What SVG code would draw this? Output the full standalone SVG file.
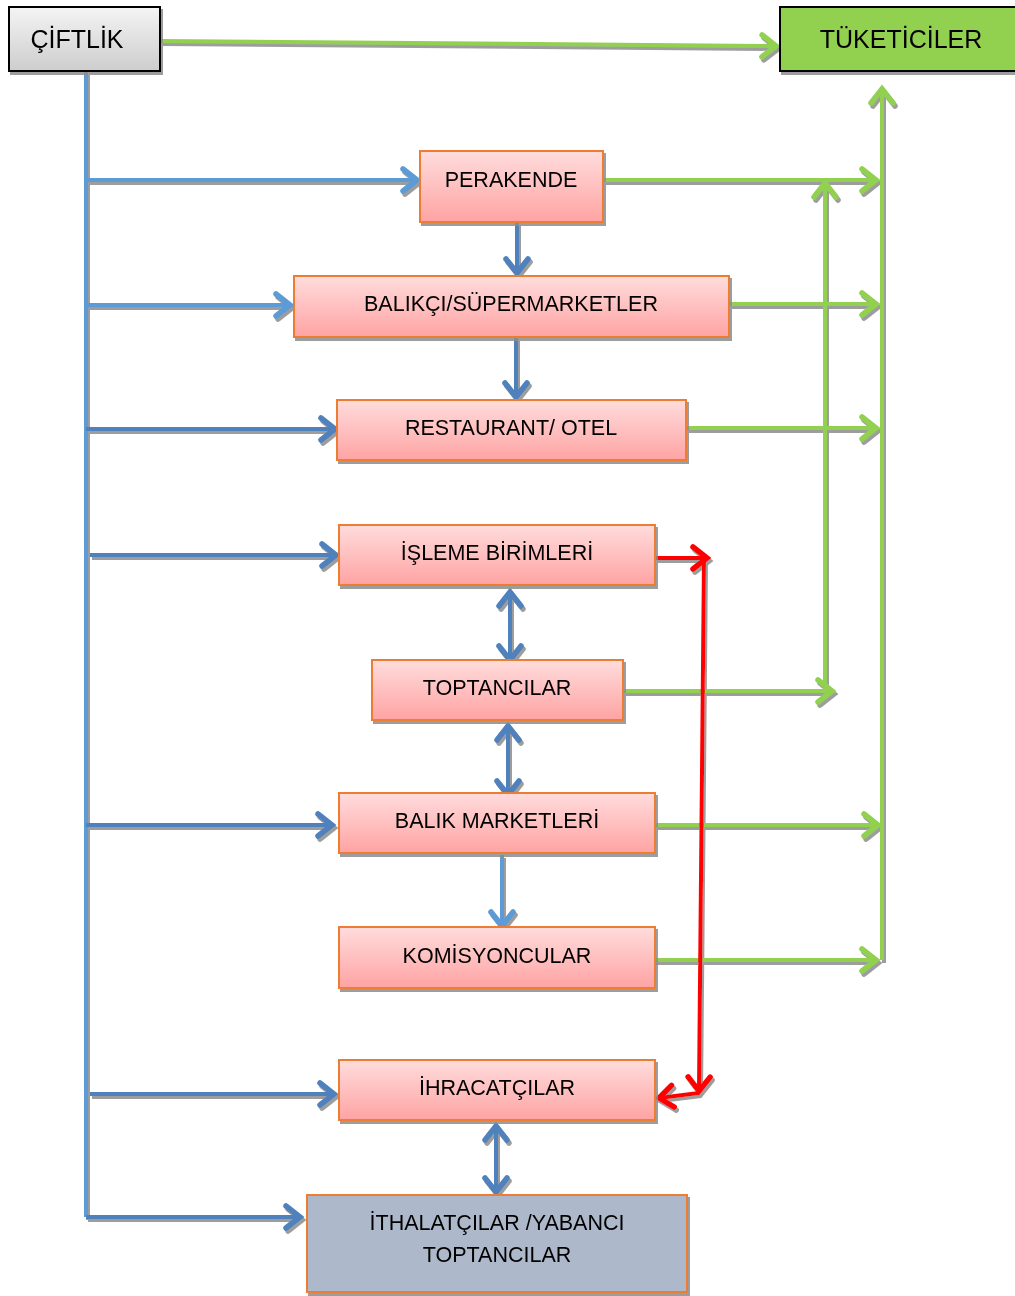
<svg xmlns="http://www.w3.org/2000/svg" width="1015" height="1296" viewBox="0 0 1015 1296">
<defs>
<linearGradient id="gPink" x1="0" y1="0" x2="0" y2="1"><stop offset="0" stop-color="#ffdcdc"/><stop offset="1" stop-color="#ffa3a3"/></linearGradient>
<linearGradient id="gGray" x1="0" y1="0" x2="0" y2="1"><stop offset="0" stop-color="#f4f4f4"/><stop offset="1" stop-color="#cdcdcd"/></linearGradient>
<filter id="sh" x="-10%" y="-10%" width="130%" height="130%">
<feFlood flood-color="#8c8c8c" flood-opacity="0.85"/>
<feComposite operator="in" in2="SourceAlpha"/>
<feOffset dx="2" dy="3" result="s"/>
<feMerge><feMergeNode in="s"/><feMergeNode in="SourceGraphic"/></feMerge>
</filter>
<marker id="mG" markerUnits="userSpaceOnUse" orient="auto-start-reverse" viewBox="-20 -15 30 30" markerWidth="30" markerHeight="30" refX="0" refY="0" overflow="visible"><path d="M-14,-11 L0,0 L-14,11" fill="none" stroke="#92d050" stroke-width="5.5" stroke-linecap="round"/></marker>
<marker id="mB" markerUnits="userSpaceOnUse" orient="auto-start-reverse" viewBox="-20 -15 30 30" markerWidth="30" markerHeight="30" refX="0" refY="0" overflow="visible"><path d="M-14,-11 L0,0 L-14,11" fill="none" stroke="#5b9bd5" stroke-width="5.5" stroke-linecap="round"/></marker>
<marker id="mD" markerUnits="userSpaceOnUse" orient="auto-start-reverse" viewBox="-20 -15 30 30" markerWidth="30" markerHeight="30" refX="0" refY="0" overflow="visible"><path d="M-14,-11 L0,0 L-14,11" fill="none" stroke="#4f81bd" stroke-width="5.5" stroke-linecap="round"/></marker>
<marker id="mR" markerUnits="userSpaceOnUse" orient="auto-start-reverse" viewBox="-20 -15 30 30" markerWidth="30" markerHeight="30" refX="0" refY="0" overflow="visible"><path d="M-14,-11 L0,0 L-14,11" fill="none" stroke="#ff0000" stroke-width="5.5" stroke-linecap="round"/></marker>
</defs>
<style>
.n rect{stroke:#ed7d31;stroke-width:2;fill:url(#gPink)}
.t{font-family:"Liberation Sans",Arial,sans-serif;font-size:21.5px;fill:#000;text-anchor:middle}
.g{stroke:#92d050;stroke-width:4;fill:none}
.b{stroke:#5b9bd5;stroke-width:4;fill:none}
.d{stroke:#4f81bd;stroke-width:4;fill:none}
.r{stroke:#ff0000;stroke-width:4;fill:none}
</style>
<rect width="1015" height="1296" fill="#fff"/>
<g id="connectors" filter="url(#sh)">
<path class="g" d="M161,41 L776,46" marker-end="url(#mG)"/>
<path class="b" d="M86,72 L86,1217"/>
<path class="b" d="M86,180 L417,180" marker-end="url(#mB)"/>
<path class="b" d="M86,305 L290,305" marker-end="url(#mB)"/>
<path class="d" d="M86,429 L335,429" marker-end="url(#mD)"/>
<path class="d" d="M90,555 L336,555" marker-end="url(#mD)"/>
<path class="d" d="M86,825 L332,825" marker-end="url(#mD)"/>
<path class="d" d="M90,1094 L334,1094" marker-end="url(#mD)"/>
<path class="d" d="M86,1217 L300,1217" marker-end="url(#mD)"/>
<path class="d" d="M517,223 L517,273" marker-end="url(#mD)"/>
<path class="d" d="M516,338 L516,397" marker-end="url(#mD)"/>
<path class="d" d="M510,592 L510,660" marker-start="url(#mD)" marker-end="url(#mD)"/>
<path class="d" d="M508,726 L508,795" marker-start="url(#mD)" marker-end="url(#mD)"/>
<path class="b" d="M502,855 L502,926" marker-end="url(#mB)"/>
<path class="d" d="M496,1126 L496,1192" marker-start="url(#mD)" marker-end="url(#mD)"/>
<path class="g" d="M604,180 L876,180" marker-end="url(#mG)"/>
<path class="g" d="M730,304 L876,304" marker-end="url(#mG)"/>
<path class="g" d="M687,428 L876,428" marker-end="url(#mG)"/>
<path class="g" d="M656,825 L878,825" marker-end="url(#mG)"/>
<path class="g" d="M646,960 L876,960" marker-end="url(#mG)"/>
<path class="g" d="M882,960 L882,89" marker-end="url(#mG)"/>
<path class="g" d="M624,691 L832,691" marker-end="url(#mG)"/>
<path class="g" d="M825,691 L825,183" marker-end="url(#mG)"/>
<path class="r" d="M656,558 L707,558" marker-end="url(#mR)"/>
<path class="r" d="M704,560 L699,1091" marker-end="url(#mR)"/>
<path class="r" d="M699,1093 L659,1098" marker-end="url(#mR)"/>
</g>
<g id="ciftlik" filter="url(#sh)"><rect x="9" y="7" width="151" height="64" fill="url(#gGray)" stroke="#000" stroke-width="2"/><text class="t" x="77" y="48" style="font-size:25px">ÇİFTLİK</text></g>
<g id="tuketiciler" filter="url(#sh)"><rect x="780" y="7" width="240" height="64" fill="#92d050" stroke="#000" stroke-width="2"/><text class="t" x="901" y="48" style="font-size:25px">TÜKETİCİLER</text></g>
<g id="perakende" class="n" filter="url(#sh)"><rect x="420" y="151" width="183" height="71"/><text class="t" x="511" y="187">PERAKENDE</text></g>
<g id="balikci" class="n" filter="url(#sh)"><rect x="294" y="276" width="435" height="61"/><text class="t" x="511" y="311">BALIKÇI/SÜPERMARKETLER</text></g>
<g id="restaurant" class="n" filter="url(#sh)"><rect x="337" y="400" width="349" height="60"/><text class="t" x="511" y="435">RESTAURANT/ OTEL</text></g>
<g id="isleme" class="n" filter="url(#sh)"><rect x="339" y="525" width="316" height="60"/><text class="t" x="497" y="560">İŞLEME BİRİMLERİ</text></g>
<g id="toptancilar" class="n" filter="url(#sh)"><rect x="372" y="660" width="251" height="60"/><text class="t" x="497" y="695">TOPTANCILAR</text></g>
<g id="balikmarketleri" class="n" filter="url(#sh)"><rect x="339" y="793" width="316" height="60"/><text class="t" x="497" y="828">BALIK MARKETLERİ</text></g>
<g id="komisyoncular" class="n" filter="url(#sh)"><rect x="339" y="927" width="316" height="61"/><text class="t" x="497" y="963">KOMİSYONCULAR</text></g>
<g id="ihracatcilar" class="n" filter="url(#sh)"><rect x="339" y="1060" width="316" height="60"/><text class="t" x="497" y="1095">İHRACATÇILAR</text></g>
<g id="ithalatcilar" filter="url(#sh)"><rect x="307" y="1195" width="380" height="97" fill="#adb9ca" stroke="#ed7d31" stroke-width="2"/><text class="t" x="497" y="1230">İTHALATÇILAR /YABANCI</text><text class="t" x="497" y="1262">TOPTANCILAR</text></g>
</svg>
